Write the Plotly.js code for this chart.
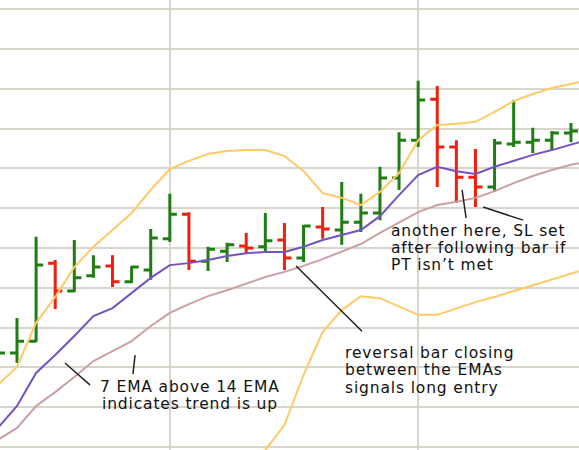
<!DOCTYPE html>
<html>
<head>
<meta charset="utf-8">
<script src="https://cdn.plot.ly/plotly-3.0.1.min.js"></script>
<style>
html,body{margin:0;padding:0;background:#fff;}
#chart{width:579px;height:450px;}
.annotation-text{letter-spacing:0.85px;}
</style>
</head>
<body>
<div id="chart"></div>
<script>
// Bar index (session number)
const barIdx = [-1,0,1,2,3,4,5,6,7,8,9,10,11,12,13,14,15,16,17,18,19,20,21,22,23,24,25,26,27,28,29];
const opens  = [121.4,123.6,126.6,146.2,139.2,143.0,145.5,141.5,144.5,152.3,158.5,146.7,149.2,150.5,150.3,152.0,147.5,155.3,154.5,156.5,158.8,167.6,177.1,187.4,175.4,167.8,165.3,176.1,176.6,177.1,178.9];
const highs  = [125.6,132.4,152.8,147.0,152.0,148.2,148.2,145.5,154.8,163.6,159.0,150.3,151.3,153.8,158.8,156.3,155.8,160.3,166.6,163.6,170.4,179.1,192.0,190.7,177.1,174.9,177.4,187.2,180.2,179.4,181.4];
const lows   = [119.8,121.1,126.4,134.7,138.9,142.5,140.2,141.2,142.0,151.5,144.5,144.2,146.5,148.5,149.0,144.5,146.5,152.3,150.8,154.0,157.0,164.6,175.4,165.3,161.3,160.3,164.1,175.4,173.9,174.6,176.6];
const closes = [123.6,126.6,145.7,139.2,142.5,145.2,141.5,145.2,152.5,158.5,146.7,149.7,150.8,150.0,151.8,147.5,155.5,154.8,156.5,158.8,167.6,177.1,187.2,175.4,167.8,165.3,176.4,176.6,177.1,178.9,179.4];

// Indicator lines
const lineIdx = [-1,0,1,2,3,4,5,6,7,8,9,10,11,12,13,14,15,16,17,18,19,20,21,22,23,24,25,26,27,28,29,30];
const ema7  = [104.8,110.3,118.6,123.1,127.9,132.9,134.9,138.7,142.5,145.7,146.2,147.0,148.0,148.7,149.0,149.0,150.3,152.0,153.3,154.5,158.0,163.3,168.3,170.4,169.3,168.6,170.4,171.9,173.4,174.6,175.9,177.4];
const ema14 = [101.8,104.8,110.3,113.8,117.6,121.6,124.1,126.6,130.4,133.7,135.9,137.9,139.4,141.0,142.7,144.0,145.5,147.2,149.2,151.0,153.8,156.3,159.0,160.8,161.6,162.6,164.3,166.3,168.1,169.6,170.9,171.9];
const upperBand = [115.6,120.1,131.2,137.7,145.2,150.3,154.5,158.8,164.6,169.8,171.9,173.6,174.4,174.6,174.6,173.1,169.3,163.8,162.6,160.8,164.1,168.8,177.1,180.9,181.2,181.7,184.2,186.9,188.7,190.2,191.2,192.2];
const lowerIdx = [10,11,12,13,14,15,16,17,18,19,20,21,22,23,24,25,26,27,28,29,30];
const lowerBand = [81.7,86.7,93.0,99.2,105.5,118.1,128.9,134.4,137.9,137.4,135.2,133.2,133.2,134.9,136.4,137.7,139.2,140.7,142.2,143.7,145.0];

// Annotation texts and pointers
const noteLines = [
  {t:"7 EMA above 14 EMA", x:4.29, y:115.08},
  {t:"indicates trend is up", x:4.40, y:110.75},
  {t:"reversal bar closing", x:17.12, y:123.74},
  {t:"between the EMAs", x:17.12, y:119.35},
  {t:"signals long entry", x:17.12, y:114.95},
  {t:"another here, SL set", x:19.53, y:154.27},
  {t:"after following bar if", x:19.53, y:150.0},
  {t:"PT isn\u2019t met", x:19.53, y:145.73}
];
const pointers = [
  [2.51,121.1,3.82,115.6],
  [6.18,123.1,6.07,118.3],
  [14.61,145.5,18.06,129.1],
  [23.30,164.6,23.51,157.5],
  [24.40,160.3,26.49,157.0]
];
const gridX = [8,21];

const traces = [
  {type:'scatter', mode:'lines', x:lowerIdx, y:lowerBand, line:{color:'#ffc966', width:2}, hoverinfo:'skip'},
  {type:'scatter', mode:'lines', x:lineIdx, y:upperBand, line:{color:'#ffc966', width:2}, hoverinfo:'skip'},
  {type:'scatter', mode:'lines', x:lineIdx, y:ema14, line:{color:'#c9a1a3', width:2}, hoverinfo:'skip'},
  {type:'scatter', mode:'lines', x:lineIdx, y:ema7, line:{color:'#7452c0', width:2}, hoverinfo:'skip'},
  {type:'ohlc', x:barIdx, open:opens, high:highs, low:lows, close:closes, tickwidth:0.37,
   increasing:{line:{color:'#1f7d14', width:3}}, decreasing:{line:{color:'#f0200e', width:3}}}
];

const annotations = noteLines.map(n => ({
  x:n.x, y:n.y, xref:'x', yref:'y', text:n.t, showarrow:false, xanchor:'left', yanchor:'middle',
  borderpad:0,
  font:{family:'DejaVu Sans, Verdana, sans-serif', size:15.5, color:'#111'}
}));
const shapes = pointers.map(p => ({type:'line', xref:'x', yref:'y', x0:p[0], y0:p[1], x1:p[2], y1:p[3], line:{color:'#222', width:1.5}}));

const layout = {
  width:579, height:450, margin:{l:0,r:0,t:0,b:0},
  paper_bgcolor:'#fff', plot_bgcolor:'#fff', showlegend:false,
  xaxis:{range:[-0.89,29.42], tickvals:gridX, showticklabels:false, ticks:'', showgrid:true, gridcolor:'#d8d5cc', gridwidth:2.5, zeroline:false, showline:false, rangeslider:{visible:false}, fixedrange:true},
  yaxis:{range:[99.25,212.31], tick0:100, dtick:10, showticklabels:false, ticks:'', showgrid:true, gridcolor:'#d8d5cc', gridwidth:2, zeroline:false, showline:false, fixedrange:true},
  annotations:annotations, shapes:shapes
};
Plotly.newPlot('chart', traces, layout, {staticPlot:true, displayModeBar:false});
</script>
</body>
</html>
